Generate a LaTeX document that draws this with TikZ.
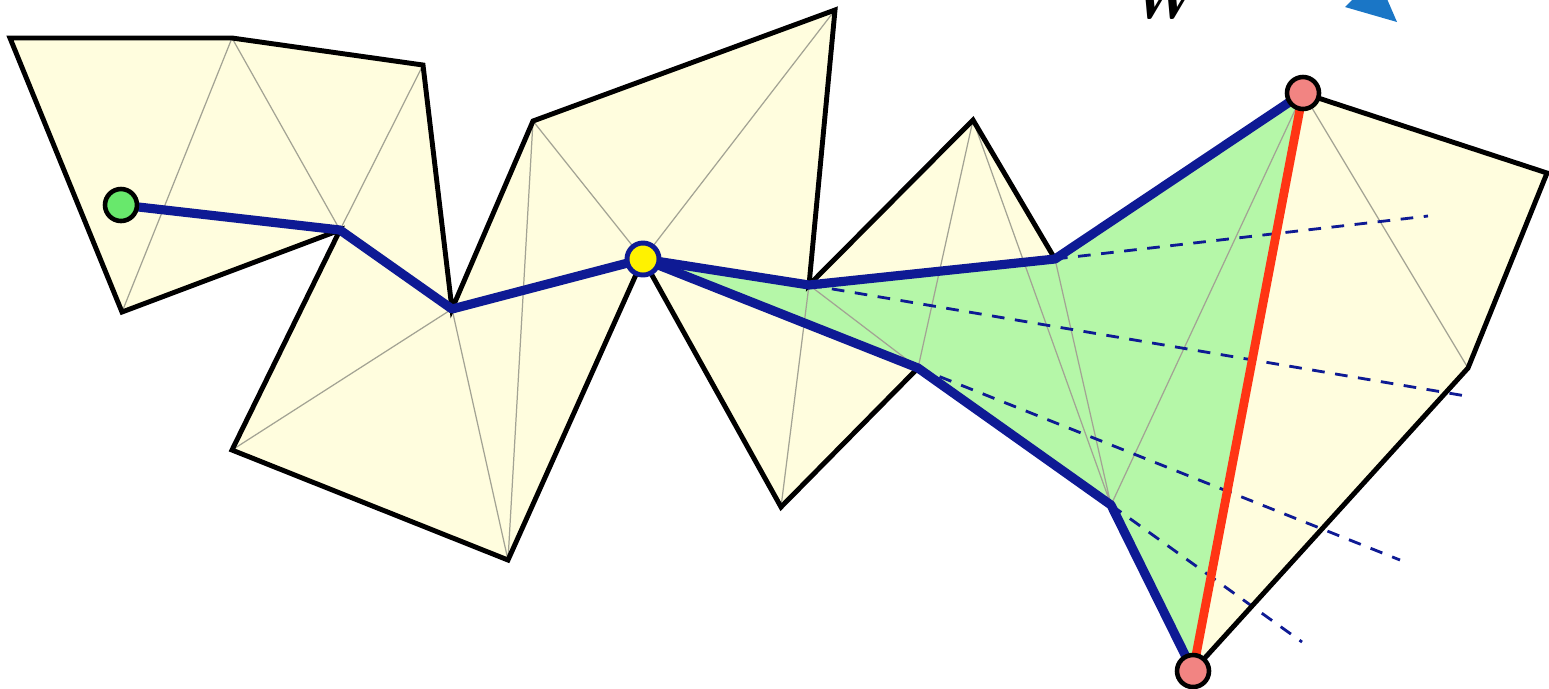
\documentclass[tikz,border=0pt]{standalone}
\usepackage{tikz}
\usetikzlibrary{positioning}
\definecolor{polyfill}{HTML}{FFFDDE}
\definecolor{funnelgreen}{HTML}{B5F7A8}
\definecolor{pathblue}{HTML}{0E1A94}
\definecolor{diagred}{HTML}{FF3514}
\definecolor{meshgray}{HTML}{A3A394}
\definecolor{pinknode}{HTML}{F28482}
\definecolor{greennode}{HTML}{68E86C}
\definecolor{markblue}{HTML}{1A76C6}

\begin{document}
\begin{tikzpicture}[
    x=0.1mm, y=-0.1mm,
    boundary/.style={draw=black, line width=1.4pt, line join=miter},
    meshline/.style={draw=meshgray, line width=0.35pt},
    funnel/.style={draw=pathblue, line width=2.6pt, line join=round, line cap=round},
    extline/.style={draw=pathblue, line width=0.8pt, dash pattern=on 3.6pt off 3pt},
    diagonal/.style={draw=diagred, line width=2.5pt},
    endpt/.style={circle, draw=black, line width=1.3pt, minimum size=3.2mm, inner sep=0pt}
]
    \useasboundingbox (0,0) rectangle (1549,688);

    % polygon vertices
    \coordinate (A) at (10,38);
    \coordinate (B) at (232,38);
    \coordinate (C) at (423,65);
    \coordinate (D) at (452,309);
    \coordinate (E) at (533,121);
    \coordinate (F) at (835,10);
    \coordinate (G) at (809,285);
    \coordinate (H) at (973,120);
    \coordinate (I) at (1055,259);
    \coordinate (J) at (1303,93);
    \coordinate (K) at (1547,173);
    \coordinate (L) at (1468,368);
    \coordinate (M) at (1193,671);
    \coordinate (N) at (1111,505);
    \coordinate (O) at (918,368);
    \coordinate (P) at (781,507);
    \coordinate (Q) at (643,259);
    \coordinate (R) at (508,560);
    \coordinate (S) at (232,450);
    \coordinate (T) at (340,230);
    \coordinate (U) at (122,312);
    \coordinate (start) at (121,205);

    % free ends of the extensions
    \coordinate (e1) at (1428,216);
    \coordinate (e2) at (1466,396);
    \coordinate (e3) at (1400,560);
    \coordinate (e4) at (1302,642);

    \fill[polyfill] (A) -- (B) -- (C) -- (D) -- (E) -- (F) -- (G) -- (H) -- (I) -- (J) -- (K) -- (L)
        -- (M) -- (N) -- (O) -- (P) -- (Q) -- (R) -- (S) -- (T) -- (U) -- cycle;
    \fill[funnelgreen] (Q) -- (G) -- (I) -- (J) -- (M) -- (N) -- (O) -- cycle;

    % triangulation
    \draw[meshline] (B) -- (U) (B) -- (T) (C) -- (T);
    \draw[meshline] (D) -- (S) (D) -- (R) (E) -- (R) (E) -- (Q) (F) -- (Q);
    \draw[meshline] (G) -- (P) (G) -- (O) (H) -- (O) (H) -- (N) (I) -- (N) (N) -- (J) (J) -- (L);

    \draw[extline] (I) -- (e1);
    \draw[extline] (G) -- (e2);
    \draw[extline] (O) -- (e3);
    \draw[extline] (N) -- (e4);

    \draw[boundary] (A) -- (B) -- (C) -- (D) -- (E) -- (F) -- (G) -- (H) -- (I) -- (J) -- (K) -- (L)
        -- (M) -- (N) -- (O) -- (P) -- (Q) -- (R) -- (S) -- (T) -- (U) -- cycle;

    \draw[funnel] (start) -- (T) -- (D) -- (Q);
    \draw[funnel] (Q) -- (G) -- (I) -- (J);
    \draw[funnel] (Q) -- (O) -- (N) -- (M);
    \draw[diagonal] (J) -- (M);

    \node[endpt, fill=greennode] (src) at (start) {};
    \node[endpt, fill=yellow, draw=pathblue, line width=1.4pt] (apex) at (Q) {};
    \node[endpt, fill=pinknode] (top) at (J) {};
    \node[endpt, fill=pinknode] (bottom) at (M) {};

    % cut-off marks at the top
    \node[font=\fontsize{17}{17}\selectfont\bfseries\itshape, anchor=base west, inner sep=0pt] (wlabel) at (1126,18) {W};
    \fill[markblue] (1345,7) -- (1397,22) -- (1384,-8) -- (1360,-8) -- cycle;
\end{tikzpicture}
\end{document}
